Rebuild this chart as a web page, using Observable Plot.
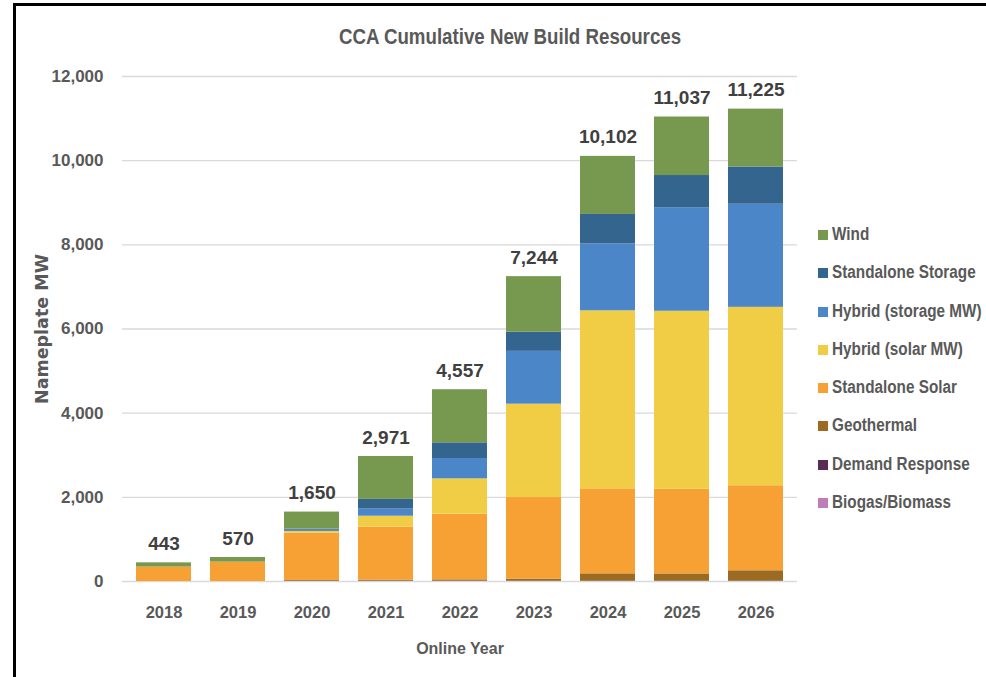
<!DOCTYPE html>
<html>
<head>
<meta charset="utf-8">
<script src="https://cdn.jsdelivr.net/npm/d3@7"></script>
<script src="https://cdn.jsdelivr.net/npm/@observablehq/plot@0.6"></script>
<style>
  html, body { margin: 0; padding: 0; background: #fff; overflow: hidden; }
  #wrap { position: relative; width: 986px; height: 677px; overflow: hidden; }
  #frame { position: absolute; left: 13px; top: 3px; width: 1000px; height: 700px;
           border-top: 3px solid #000; border-left: 3px solid #000; box-sizing: border-box; }
  #title { position: absolute; left: 0; width: 1020px; top: 24px; text-align: center;
           font-family: "Liberation Sans", Arial, sans-serif;
           font-weight: bold; font-size: 22px; color: #595959;
           transform: scaleX(0.85); transform-origin: 510px 0; }
  #chart { position: absolute; left: 0; top: 60px; }
  #legend { position: absolute; left: 818px; top: 224px;
            font-family: "Liberation Sans", Arial, sans-serif;
            font-weight: bold; font-size: 18px; color: #595959; white-space: nowrap; }
  .item { height: 38.3px; display: flex; align-items: flex-start; }
  .sw { width: 10px; height: 10px; margin-right: 4px; margin-top: 6px; flex: none; }
  .tx { display: inline-block; transform: scaleX(0.85); transform-origin: 0 0; }
</style>
</head>
<body>
<div id="wrap">
  <div id="frame"></div>
  <div id="title">CCA Cumulative New Build Resources</div>
  <div id="chart"></div>
  <div id="legend"></div>
</div>
<script>
const years = ["2018", "2019", "2020", "2021", "2022", "2023", "2024", "2025", "2026"];

// series (MW), bottom of stack to top
const biogasBiomass    = [0, 0, 0, 0, 0, 0, 0, 0, 0];
const demandResponse   = [0, 0, 10, 10, 10, 10, 10, 10, 10];
const geothermal       = [0, 0, 15, 21, 29, 44, 172, 170, 245];
const standaloneSolar  = [343, 460, 1125, 1260, 1560, 1940, 2020, 2012, 2020];
const hybridSolar      = [0, 0, 40, 260, 840, 2220, 4230, 4230, 4240];
const hybridStorage    = [0, 0, 55, 170, 483, 1255, 1590, 2460, 2450];
const standaloneStorage= [0, 0, 0, 230, 373, 455, 700, 765, 885];
const wind             = [100, 110, 405, 1020, 1262, 1320, 1380, 1390, 1375];

const totals = [443, 570, 1650, 2971, 4557, 7244, 10102, 11037, 11225];

const seriesNames = ["Biogas/Biomass", "Demand Response", "Geothermal", "Standalone Solar",
  "Hybrid (solar MW)", "Hybrid (storage MW)", "Standalone Storage", "Wind"];
const seriesValues = [biogasBiomass, demandResponse, geothermal, standaloneSolar,
  hybridSolar, hybridStorage, standaloneStorage, wind];
const seriesColors = ["#c07cb8", "#5a2d57", "#9c6b22", "#f7a033",
  "#f0cd45", "#4a86c8", "#33658f", "#77994f"];

const yTicks = [0, 2000, 4000, 6000, 8000, 10000, 12000];

const rows = [];
seriesNames.forEach((name, si) => {
  years.forEach((yr, i) => rows.push({year: yr, type: name, value: seriesValues[si][i]}));
});
const totalRows = years.map((yr, i) => ({year: yr, total: totals[i]}));

const font = '"Liberation Sans", Arial, sans-serif';

const chart = Plot.plot({
  width: 986,
  height: 617,
  marginLeft: 122,
  marginRight: 189,
  marginTop: 16,
  marginBottom: 96,
  style: {fontFamily: font, color: "#595959", background: "transparent"},
  x: {domain: years, paddingInner: 0.253, paddingOuter: 0.127},
  y: {domain: [0, 12000]},
  color: {domain: seriesNames, range: seriesColors},
  marks: [
    Plot.gridY(yTicks, {stroke: "#d9d9d9", strokeOpacity: 1, strokeWidth: 1.3}),
    Plot.barY(rows, {x: "year", y: "value", fill: "type", order: seriesNames}),
    Plot.axisY({ticks: yTicks, tickFormat: d3.format(","), tickSize: 0, tickPadding: 19,
      label: null, fontSize: 17, fontWeight: "bold", fill: "#595959"}),
    Plot.axisX({tickSize: 0, tickPadding: 25, label: null, fontSize: 16.5, fontWeight: "bold", fill: "#595959"}),
    Plot.text(totalRows, {x: "year", y: "total", text: d => d3.format(",")(d.total), dy: -19,
      lineAnchor: "middle", fontSize: 19, fontWeight: "bold", fill: "#404040"}),
    Plot.text(["Online Year"], {frameAnchor: "bottom", dy: 67, lineAnchor: "middle",
      fontSize: 16, fontWeight: "bold", fill: "#595959"}),
    Plot.text(["Nameplate MW"], {frameAnchor: "left", dx: -80, rotate: -90, lineAnchor: "middle",
      textAnchor: "middle",
      fontFamily: "DejaVu Sans, sans-serif", fontSize: 17.5, fontWeight: "bold", fill: "#595959"})
  ]
});
document.getElementById("chart").appendChild(chart);

const legend = document.getElementById("legend");
const legendOrder = [...seriesNames].reverse();
legendOrder.forEach(name => {
  const i = seriesNames.indexOf(name);
  const it = document.createElement("div");
  it.className = "item";
  const sw = document.createElement("span");
  sw.className = "sw";
  sw.style.background = seriesColors[i];
  const tx = document.createElement("span");
  tx.className = "tx";
  tx.textContent = name;
  it.appendChild(sw); it.appendChild(tx);
  legend.appendChild(it);
});
</script>
</body>
</html>
